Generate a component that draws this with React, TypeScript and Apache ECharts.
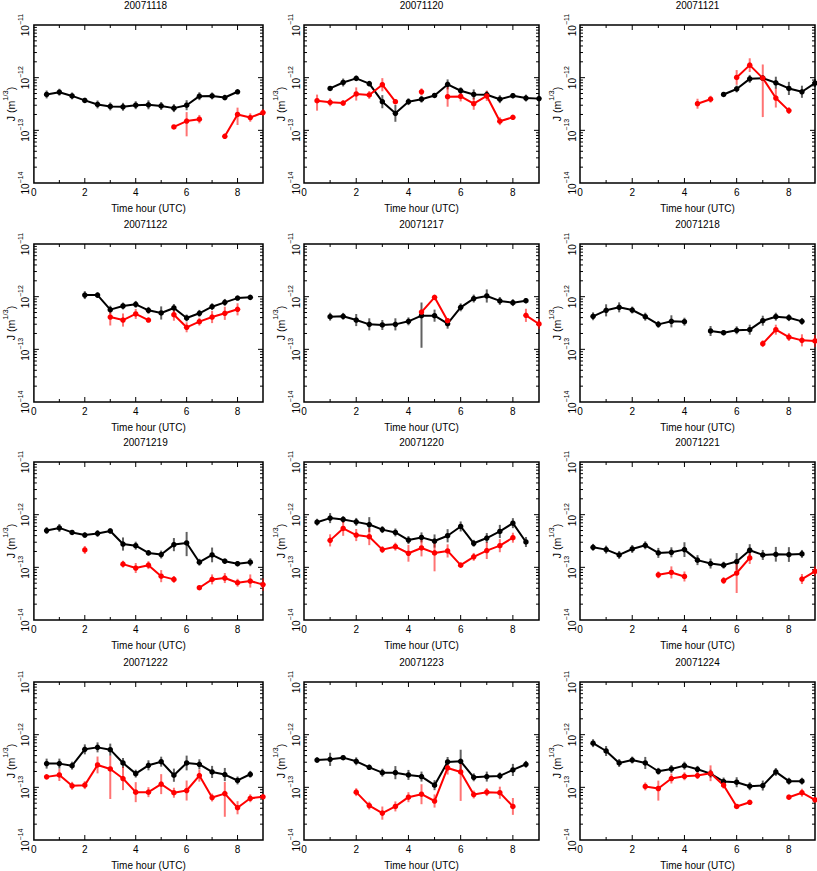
import React, { useEffect, useRef } from "react";
import * as echarts from "echarts";

// Each point: [time hour, J, error up (dex), error down (dex, optional)]
type Pt = [number, number, number, number?];

const B_1118: Pt[] = [[0.5,4.8e-13,0.075],[1.0,5.3e-13,0.065],[1.5,4.5e-13,0.065],[2.0,3.7e-13,0.05],[2.5,3.1e-13,0.075],[3.0,2.84e-13,0.075],[3.5,2.8e-13,0.075],[4.0,3.0e-13,0.075],[4.5,3.05e-13,0.085],[5.0,2.9e-13,0.075],[5.5,2.64e-13,0.075],[6.0,3.0e-13,0.095],[6.5,4.45e-13,0.075],[7.0,4.5e-13,0.065],[7.5,4.2e-13,0.05],[8.0,5.4e-13,0.03]];
const R_1118: Pt[] = [[5.5,1.16e-13,0.03],[6.0,1.5e-13,0.17,0.29],[6.5,1.63e-13,0.08],[7.5,7.7e-14,0.05],[8.0,2.0e-13,0.13,0.2],[8.5,1.75e-13,0.08],[9.0,2.18e-13,0.06]];

const B_1120: Pt[] = [[1.0,6.25e-13,0.03],[1.5,8.1e-13,0.075],[2.0,9.7e-13,0.05],[2.5,7.7e-13,0.05],[3.0,3.5e-13,0.125],[3.5,2.1e-13,0.16],[4.0,3.5e-13,0.065],[4.5,3.9e-13,0.065],[5.0,4.6e-13,0.04],[5.5,7.45e-13,0.095],[6.0,5.65e-13,0.065],[6.5,4.8e-13,0.095],[7.0,4.75e-13,0.075],[7.5,3.9e-13,0.075],[8.0,4.55e-13,0.05],[8.5,4.1e-13,0.065],[9.0,4.0e-13,0.04]];
const R_1120: Pt[] = [[0.5,3.66e-13,0.115,0.19],[1.0,3.4e-13,0.075],[1.5,3.3e-13,0.05],[2.0,4.9e-13,0.125],[2.5,4.7e-13,0.075],[3.0,7.35e-13,0.125],[3.5,3.5e-13,0.03],[4.5,5.4e-13,0.065],[5.5,4.35e-13,0.19],[6.0,4.4e-13,0.095],[6.5,3.2e-13,0.115],[7.0,4.5e-13,0.095],[7.5,1.49e-13,0.075],[8.0,1.77e-13,0.04]];

const B_1121: Pt[] = [[5.5,4.8e-13,0.03],[6.0,6.1e-13,0.065],[6.5,9.5e-13,0.075],[7.0,9.8e-13,0.05],[7.5,8.0e-13,0.115],[8.0,6.25e-13,0.125],[8.5,5.4e-13,0.115],[9.0,7.9e-13,0.075]];
const R_1121: Pt[] = [[4.5,3.2e-13,0.095],[5.0,3.9e-13,0.065],[6.0,1.01e-12,0.14],[6.5,1.73e-12,0.13],[7.0,9.8e-13,0.26,0.74],[7.5,4.1e-13,0.18],[8.0,2.37e-13,0.065]];

const B_1122: Pt[] = [[2.0,1.07e-12,0.075],[2.5,1.07e-12,0.05],[3.0,5.67e-13,0.075],[3.5,6.65e-13,0.065],[4.0,7.15e-13,0.065],[4.5,5.5e-13,0.065],[5.0,4.9e-13,0.125],[5.5,6.1e-13,0.075],[6.0,3.94e-13,0.065],[6.5,4.83e-13,0.065],[7.0,6.45e-13,0.065],[7.5,7.8e-13,0.065],[8.0,9.4e-13,0.04],[8.5,9.7e-13,0.03]];
const R_1122: Pt[] = [[3.0,4.1e-13,0.16],[3.5,3.6e-13,0.125],[4.0,4.7e-13,0.095],[4.5,3.6e-13,0.04],[5.5,4.55e-13,0.115],[6.0,2.62e-13,0.095],[6.5,3.35e-13,0.075],[7.0,4.1e-13,0.115],[7.5,4.83e-13,0.125],[8.0,5.75e-13,0.115]];

const B_1217: Pt[] = [[1.0,4.17e-13,0.075],[1.5,4.24e-13,0.065],[2.0,3.6e-13,0.115],[2.5,2.98e-13,0.115],[3.0,2.9e-13,0.095],[3.5,2.98e-13,0.115],[4.0,3.4e-13,0.075],[4.5,4.36e-13,0.25,0.61],[5.0,4.36e-13,0.115],[5.5,3.07e-13,0.095],[6.0,6.27e-13,0.075],[6.5,9.2e-13,0.075],[7.0,1.03e-12,0.125],[7.5,8.3e-13,0.075],[8.0,7.7e-13,0.065],[8.5,8.4e-13,0.05]];
const R_1217: Pt[] = [[4.5,5.1e-13,0.03],[5.0,9.7e-13,0.03],[5.5,3.5e-13,0.03],[8.5,4.42e-13,0.125],[9.0,3.03e-13,0.095]];

const B_1218: Pt[] = [[0.5,4.24e-13,0.075],[1.0,5.5e-13,0.115],[1.5,6.27e-13,0.095],[2.0,5.58e-13,0.065],[2.5,4.17e-13,0.075],[3.0,2.98e-13,0.065],[3.5,3.4e-13,0.115],[4.0,3.35e-13,0.075],[5.0,2.23e-13,0.095],[5.5,2.07e-13,0.05],[6.0,2.3e-13,0.075],[6.5,2.36e-13,0.095],[7.0,3.5e-13,0.095],[7.5,4.17e-13,0.075],[8.0,3.99e-13,0.065],[8.5,3.4e-13,0.065]];
const R_1218: Pt[] = [[7.0,1.28e-13,0.065],[7.5,2.36e-13,0.095],[8.0,1.71e-13,0.075],[8.5,1.48e-13,0.115],[9.0,1.44e-13,0.115]];

const B_1219: Pt[] = [[0.5,5.0e-13,0.065],[1.0,5.6e-13,0.075],[1.5,4.6e-13,0.03],[2.0,4.1e-13,0.05],[2.5,4.4e-13,0.065],[3.0,4.9e-13,0.05],[3.5,2.77e-13,0.125],[4.0,2.58e-13,0.075],[4.5,1.88e-13,0.05],[5.0,1.75e-13,0.075],[5.5,2.7e-13,0.125],[6.0,2.9e-13,0.21,0.25],[6.5,1.25e-13,0.065],[7.0,1.72e-13,0.14],[7.5,1.31e-13,0.05],[8.0,1.17e-13,0.05],[8.5,1.25e-13,0.075]];
const R_1219: Pt[] = [[2.0,2.14e-13,0.075],[3.5,1.15e-13,0.065],[4.0,9.7e-14,0.095],[4.5,1.1e-13,0.075],[5.0,6.8e-14,0.115],[5.5,5.9e-14,0.065],[6.5,4.1e-14,0.03],[7.0,5.9e-14,0.095],[7.5,6.26e-14,0.095],[8.0,5.1e-14,0.075],[8.5,5.5e-14,0.125],[9.0,4.7e-14,0.115]];

const B_1220: Pt[] = [[0.5,7.2e-13,0.065],[1.0,8.6e-13,0.095],[1.5,8.1e-13,0.065],[2.0,7.3e-13,0.075],[2.5,6.5e-13,0.14],[3.0,5.2e-13,0.065],[3.5,4.6e-13,0.075],[4.0,3.3e-13,0.075],[4.5,3.7e-13,0.095],[5.0,3.16e-13,0.125],[5.5,3.98e-13,0.125],[6.0,5.97e-13,0.095],[6.5,2.86e-13,0.065],[7.0,3.6e-13,0.095],[7.5,4.8e-13,0.125],[8.0,6.9e-13,0.095],[8.5,3.03e-13,0.095]];
const R_1220: Pt[] = [[1.0,3.25e-13,0.115],[1.5,5.47e-13,0.14],[2.0,4.1e-13,0.115],[2.5,3.81e-13,0.16],[3.0,2.17e-13,0.065],[3.5,2.47e-13,0.075],[4.0,1.85e-13,0.16],[4.5,2.33e-13,0.16],[5.0,1.88e-13,0.19,0.35],[5.5,2.05e-13,0.125],[6.0,1.1e-13,0.04],[6.5,1.58e-13,0.075],[7.0,2.08e-13,0.16],[7.5,2.58e-13,0.125],[8.0,3.65e-13,0.095]];

const B_1221: Pt[] = [[0.5,2.4e-13,0.065],[1.0,2.17e-13,0.075],[1.5,1.72e-13,0.075],[2.0,2.23e-13,0.075],[2.5,2.62e-13,0.075],[3.0,1.88e-13,0.095],[3.5,1.93e-13,0.095],[4.0,2.17e-13,0.14],[4.5,1.37e-13,0.095],[5.0,1.18e-13,0.095],[5.5,1.1e-13,0.065],[6.0,1.29e-13,0.16],[6.5,2.11e-13,0.115],[7.0,1.72e-13,0.095],[7.5,1.77e-13,0.14],[8.0,1.75e-13,0.14],[8.5,1.8e-13,0.075]];
const R_1221: Pt[] = [[3.0,7.2e-14,0.065],[3.5,8.0e-14,0.115],[4.0,6.7e-14,0.095],[5.5,5.6e-14,0.065],[6.0,7.8e-14,0.25,0.38],[6.5,1.51e-13,0.115],[8.5,6.0e-14,0.095],[9.0,8.4e-14,0.095]];

const B_1222: Pt[] = [[0.5,2.82e-13,0.095],[1.0,2.82e-13,0.095],[1.5,2.58e-13,0.075],[2.0,5.26e-13,0.095],[2.5,5.74e-13,0.095],[3.0,5.19e-13,0.115],[3.5,2.9e-13,0.095],[4.0,1.82e-13,0.075],[4.5,2.62e-13,0.095],[5.0,3.07e-13,0.095],[5.5,1.7e-13,0.125],[6.0,2.9e-13,0.14],[6.5,2.74e-13,0.095],[7.0,1.96e-13,0.115],[7.5,1.75e-13,0.125],[8.0,1.35e-13,0.075],[8.5,1.77e-13,0.065]];
const R_1222: Pt[] = [[0.5,1.58e-13,0.03],[1.0,1.72e-13,0.115],[1.5,1.07e-13,0.075],[2.0,1.1e-13,0.075],[2.5,2.66e-13,0.16],[3.0,2.23e-13,0.25,0.57],[3.5,1.47e-13,0.22],[4.0,8.1e-14,0.19],[4.5,8.1e-14,0.095],[5.0,1.15e-13,0.19],[5.5,7.9e-14,0.095],[6.0,8.7e-14,0.19],[6.5,1.67e-13,0.115],[7.0,6.4e-14,0.075],[7.5,7.6e-14,0.22,0.44],[8.0,4.1e-14,0.125],[8.5,6.2e-14,0.075],[9.0,6.6e-14,0.03]];

const B_1223: Pt[] = [[0.5,3.3e-13,0.05],[1.0,3.4e-13,0.125],[1.5,3.66e-13,0.03],[2.0,3.12e-13,0.075],[2.5,2.4e-13,0.05],[3.0,1.9e-13,0.075],[3.5,1.9e-13,0.125],[4.0,1.72e-13,0.095],[4.5,1.6e-13,0.095],[5.0,1.1e-13,0.095],[5.5,3.03e-13,0.095],[6.0,3.12e-13,0.22,0.21],[6.5,1.55e-13,0.075],[7.0,1.6e-13,0.095],[7.5,1.65e-13,0.065],[8.0,2.14e-13,0.115],[8.5,2.74e-13,0.065]];
const R_1223: Pt[] = [[2.0,8.1e-14,0.075],[2.5,4.5e-14,0.075],[3.0,3.24e-14,0.125],[3.5,4.34e-14,0.095],[4.0,6.5e-14,0.095],[4.5,7.4e-14,0.19],[5.0,5.5e-14,0.125],[5.5,2.33e-13,0.125],[6.0,1.96e-13,0.18,0.55],[6.5,7.3e-14,0.075],[7.0,8.1e-14,0.075],[7.5,7.9e-14,0.115],[8.0,4.34e-14,0.16]];

const B_1224: Pt[] = [[0.5,6.9e-13,0.075],[1.0,4.9e-13,0.095],[1.5,2.9e-13,0.075],[2.0,3.3e-13,0.065],[2.5,2.9e-13,0.115],[3.0,2.02e-13,0.065],[3.5,2.23e-13,0.075],[4.0,2.58e-13,0.075],[4.5,2.2e-13,0.065],[5.0,1.82e-13,0.075],[5.5,1.29e-13,0.075],[6.0,1.25e-13,0.095],[6.5,1.05e-13,0.075],[7.0,1.08e-13,0.095],[7.5,1.96e-13,0.075],[8.0,1.31e-13,0.065],[8.5,1.31e-13,0.065]];
const R_1224: Pt[] = [[2.5,1.04e-13,0.075],[3.0,9.5e-14,0.15,0.23],[3.5,1.47e-13,0.095],[4.0,1.62e-13,0.075],[4.5,1.67e-13,0.065],[5.0,1.85e-13,0.15],[5.5,1.1e-13,0.065],[6.0,4.34e-14,0.03],[6.5,5.2e-14,0.03],[8.0,6.5e-14,0.05],[8.5,7.9e-14,0.075],[9.0,5.8e-14,0.05]];

const DATES = ["20071118","20071120","20071121","20071122","20071217","20071218","20071219","20071220","20071221","20071222","20071223","20071224"];
const BLACK = [B_1118,B_1120,B_1121,B_1122,B_1217,B_1218,B_1219,B_1220,B_1221,B_1222,B_1223,B_1224];
const RED = [R_1118,R_1120,R_1121,R_1122,R_1217,R_1218,R_1219,R_1220,R_1221,R_1222,R_1223,R_1224];

const X_MIN = 0, X_MAX = 9, X_INTERVAL = 2;
const Y_MIN = 1e-14, Y_MAX = 1e-11;
const X_NAME = "Time hour (UTC)";

// layout
const COL_LEFT = [28, 304, 580];
const ROW_TOP = [25, 244, 462, 682];
const GW = 235, GH = 158;
const FONT = "'Liberation Sans', Arial, sans-serif";

const lineData = (pts: Pt[]) => {
  const out: any[] = [];
  pts.forEach((p, i) => {
    if (i > 0 && p[0] - pts[i - 1][0] > 0.51) out.push([(p[0] + pts[i - 1][0]) / 2, null]);
    out.push([p[0], p[1]]);
  });
  return out;
};
const errData = (pts: Pt[]) =>
  pts.map((p) => [p[0], p[1] / Math.pow(10, p[3] ?? p[2]), p[1] * Math.pow(10, p[2])]);

// tick marks (axis decoration)
const tickData: number[][] = [];
for (const d of [-14, -13, -12]) {
  for (let k = 1; k <= 9; k++) {
    if (d === -14 && k === 1) continue;
    tickData.push([0, k * Math.pow(10, d), 0, k === 1 ? 5 : 3]);
  }
}
for (let x = 1; x < 9; x++) tickData.push([x, 1e-13, 1, x % 2 === 0 ? 5 : 3]);

const supRich = {
  b: { fontSize: 10, fontFamily: FONT, color: "#000", padding: [4, 0, 0, 0], verticalAlign: "bottom" },
  s: { fontSize: 7, fontFamily: FONT, color: "#000", verticalAlign: "top" },
};
const nameRich = {
  b: { fontSize: 10.5, fontFamily: FONT, color: "#000", padding: [4, 0, 0, 0], verticalAlign: "bottom" },
  s: { fontSize: 7.5, fontFamily: FONT, color: "#000", verticalAlign: "top" },
};

export default function App() {
  const ref = useRef<HTMLDivElement>(null);
  useEffect(() => {
    if (!ref.current) return;
    const chart = echarts.init(ref.current, null, { renderer: "svg" });
    const grids: any[] = [], xAxes: any[] = [], yAxes: any[] = [], series: any[] = [], graphics: any[] = [];
    DATES.forEach((date, i) => {
      const left = COL_LEFT[i % 3], top = ROW_TOP[Math.floor(i / 3)];
      grids.push({ left, top, width: GW, height: GH, show: true, borderColor: "#000", borderWidth: 1.5, backgroundColor: "transparent" });
      xAxes.push({
        gridIndex: i, type: "value", min: X_MIN, max: X_MAX, interval: X_INTERVAL,
        axisLine: { show: false }, axisTick: { show: false }, splitLine: { show: false },
        axisLabel: { showMaxLabel: false, fontSize: 10, color: "#000", fontFamily: FONT, margin: 4 },
        name: X_NAME, nameLocation: "middle", nameGap: 20,
        nameTextStyle: { fontSize: 10, color: "#000", fontFamily: FONT },
      });
      yAxes.push({
        gridIndex: i, type: "log", logBase: 10, min: Y_MIN, max: Y_MAX,
        axisLine: { show: false }, axisTick: { show: false }, splitLine: { show: false },
        axisLabel: {
          rotate: 90, margin: 3,
          formatter: (v: number) => `{b|10}{s|−${-Math.round(Math.log10(v))}}`,
          rich: supRich,
        },
        name: "{b|J (m}{s|1/3}{b|)}", nameLocation: "middle", nameGap: 17,
        nameTextStyle: { rich: nameRich },
      });
      graphics.push({
        type: "text", x: left + GW / 2, y: top - 20,
        style: { text: date, fill: "#000", font: `10px ${FONT}`, textAlign: "center", verticalAlign: "middle" },
      });
      series.push({
        type: "custom", xAxisIndex: i, yAxisIndex: i, data: tickData, silent: true, z: 1,
        renderItem: (_p: any, api: any) => {
          const kind = api.value(2), len = api.value(3);
          const st = { stroke: "#000", lineWidth: 1 };
          if (kind === 0) {
            const v = api.value(1);
            const a = api.coord([X_MIN, v]), b = api.coord([X_MAX, v]);
            return { type: "group", children: [
              { type: "line", shape: { x1: a[0], y1: a[1], x2: a[0] + len, y2: a[1] }, style: st },
              { type: "line", shape: { x1: b[0], y1: b[1], x2: b[0] - len, y2: b[1] }, style: st },
            ] };
          }
          const x = api.value(0);
          const a = api.coord([x, Y_MIN]), b = api.coord([x, Y_MAX]);
          return { type: "group", children: [
            { type: "line", shape: { x1: a[0], y1: a[1], x2: a[0], y2: a[1] - len }, style: st },
            { type: "line", shape: { x1: b[0], y1: b[1], x2: b[0], y2: b[1] + len }, style: st },
          ] };
        },
      });
      const addSet = (pts: Pt[], color: string, errColor: string) => {
        series.push({
          type: "custom", xAxisIndex: i, yAxisIndex: i, data: errData(pts), silent: true, z: 2,
          encode: { x: 0, y: [1, 2] },
          renderItem: (_p: any, api: any) => {
            const lo = api.coord([api.value(0), api.value(1)]);
            const hi = api.coord([api.value(0), api.value(2)]);
            return { type: "line", shape: { x1: lo[0], y1: lo[1], x2: hi[0], y2: hi[1] }, style: { stroke: errColor, lineWidth: 2 } };
          },
        });
        series.push({
          type: "line", xAxisIndex: i, yAxisIndex: i, data: lineData(pts), z: 3, clip: false,
          symbol: "circle", symbolSize: 5.5, showSymbol: true, connectNulls: false,
          itemStyle: { color }, lineStyle: { color, width: 2 },
        });
      };
      addSet(BLACK[i], "#000000", "rgba(0,0,0,0.62)");
      addSet(RED[i], "#ff0000", "rgba(255,0,0,0.55)");
    });
    chart.setOption({
      animation: false,
      backgroundColor: "#fff",
      grid: grids, xAxis: xAxes, yAxis: yAxes, series, graphic: graphics,
    });
    return () => chart.dispose();
  }, []);
  return <div ref={ref} style={{ position: "absolute", left: 0, top: 0, width: 817, height: 871 }} />;
}
